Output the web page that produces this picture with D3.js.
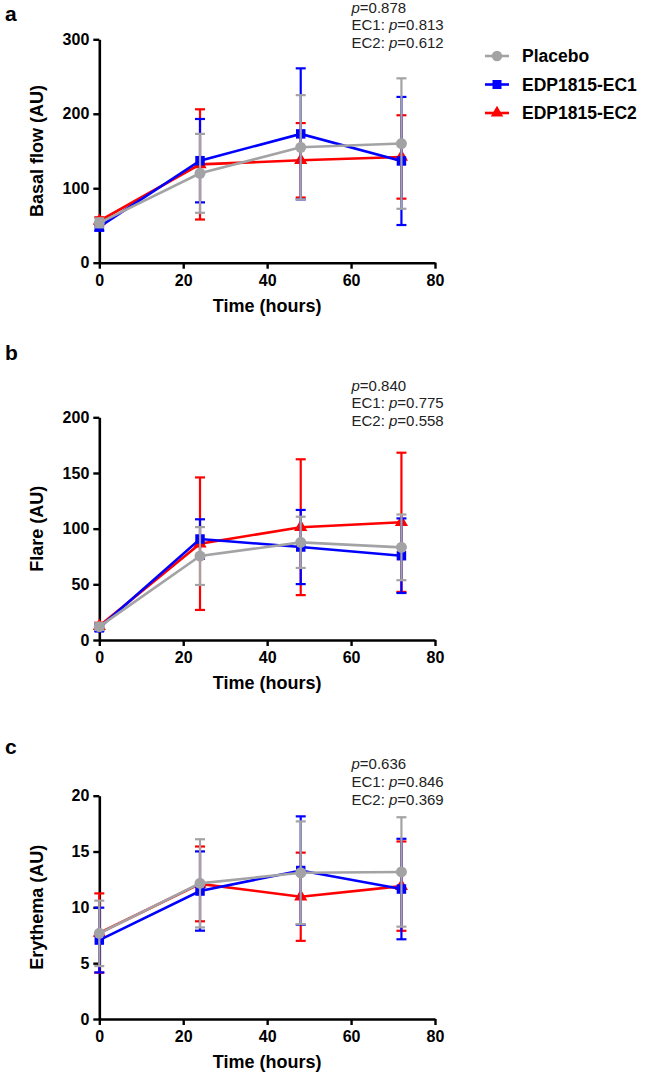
<!DOCTYPE html>
<html>
<head>
<meta charset="utf-8">
<script src="https://cdn.jsdelivr.net/npm/d3@7"></script>
<style>
  body { margin: 0; background: #fff; }
  svg { display: block; font-family: Arial, "Liberation Sans", sans-serif; }
</style>
</head>
<body>
<div id="chart"></div>
<script>
// Data (means and SD)
const times = [0, 24, 48, 72];
const groups = ["Placebo", "EDP1815-EC1", "EDP1815-EC2"];

const basalMeans = [
    [53.5, 120, 155, 160],
    [48, 137, 173, 136.6],
    [56, 132, 137.5, 142]
];
const basalSD = [
    [6, 53, 70, 87.6],
    [5, 56, 88, 86],
    [5, 74, 50, 56]
];

const flareMeans = [
    [12, 75.4, 87.7, 83.2],
    [11, 90.7, 83.5, 75.7],
    [12.5, 86.5, 101.3, 105.7]
];
const flareSD = [
    [3, 26, 23, 29.5],
    [3, 17.7, 33.3, 33.5],
    [3, 59.5, 61, 62.5]
];

const erythemaMeans = [
    [7.67, 12.15, 13.1, 13.17],
    [7.07, 11.46, 13.3, 11.64],
    [7.7, 12.1, 10.95, 11.9]
];
const erythemaSD = [
    [2.93, 3.95, 4.6, 4.9],
    [2.9, 3.55, 4.85, 4.5],
    [3.55, 3.35, 3.95, 4.0]
];

const xTicks = [0, 20, 40, 60, 80];
const basalTicks = [0, 100, 200, 300];
const flareTicks = [0, 50, 100, 150, 200];
const erythemaTicks = [0, 5, 10, 15, 20];

const basalP = ["0.878", "0.813", "0.612"];
const flareP = ["0.840", "0.775", "0.558"];
const erythemaP = ["0.636", "0.846", "0.369"];

// Styling
const colors = ["#a3a3a6", "#0000ff", "#ff0000"];
const symbols = [d3.symbolCircle, d3.symbolSquare, d3.symbolTriangle];
const symbolSizes = [95, 90, 75];

const svg = d3.select("#chart")
    .append("svg")
    .attr("width", 646)
    .attr("height", 1075);

const x = d3.scaleLinear()
    .domain([0, 80])
    .range([99.3, 435]);

function createPanel(cfg) {
    const y = d3.scaleLinear()
        .domain([cfg.ticks[0], cfg.ticks[cfg.ticks.length - 1]])
        .range([cfg.bottom, cfg.top]);

    const g = svg.append("g");

    // panel letter
    svg.append("text")
        .attr("x", 5)
        .attr("y", cfg.letterY)
        .style("font-size", "21px")
        .style("font-weight", "bold")
        .text(cfg.letter);

    // axes
    const xAxis = g.append("g")
        .attr("transform", `translate(0,${cfg.bottom})`)
        .call(d3.axisBottom(x).tickValues(xTicks).tickSize(6).tickSizeOuter(0).tickPadding(6));

    const yAxis = g.append("g")
        .attr("transform", `translate(${x(0)},0)`)
        .call(d3.axisLeft(y).tickValues(cfg.ticks).tickSize(6).tickSizeOuter(0).tickPadding(4));

    [xAxis, yAxis].forEach(a => {
        a.select(".domain").attr("stroke", "#000").attr("stroke-width", 2.6);
        a.selectAll(".tick line").attr("stroke", "#000").attr("stroke-width", 2.4);
        a.selectAll(".tick text")
            .attr("fill", "#000")
            .style("font-size", "16px")
            .style("font-weight", "bold")
            .style("font-family", "Arial, 'Liberation Sans', sans-serif");
    });

    // axis titles
    g.append("text")
        .attr("text-anchor", "middle")
        .attr("x", x(40))
        .attr("y", cfg.bottom + 49)
        .style("font-size", "18px")
        .style("font-weight", "bold")
        .text("Time (hours)");

    g.append("text")
        .attr("text-anchor", "middle")
        .attr("transform", "rotate(-90)")
        .attr("x", -(cfg.top + cfg.bottom) / 2)
        .attr("y", 43)
        .style("font-size", "18px")
        .style("font-weight", "bold")
        .text(cfg.yLabel);

    // p-values
    const labels = ["", "EC1: ", "EC2: "];
    cfg.p.forEach((p, i) => {
        const t = g.append("text")
            .attr("x", 351.5)
            .attr("y", cfg.top - 26.6 + i * 17.7)
            .style("font-size", "15px")
            .attr("fill", "#222");
        t.append("tspan").text(labels[i]);
        t.append("tspan").style("font-style", "italic").text("p");
        t.append("tspan").text("=" + p);
    });

    const line = d3.line()
        .x((d, i) => x(times[i]))
        .y(d => y(d));

    // draw red, blue, then grey on top
    [2, 1, 0].forEach(k => {
        const series = g.append("g");
        const pts = times.map((t, i) => ({ t: t, m: cfg.means[k][i], sd: cfg.sd[k][i] }));

        series.selectAll(".err")
            .data(pts)
            .enter()
            .append("line")
            .attr("x1", d => x(d.t))
            .attr("x2", d => x(d.t))
            .attr("y1", d => y(d.m - d.sd))
            .attr("y2", d => y(d.m + d.sd))
            .attr("stroke", colors[k])
            .attr("stroke-width", 2.2);

        [-1, 1].forEach(s => {
            series.selectAll(".cap" + s)
                .data(pts)
                .enter()
                .append("line")
                .attr("x1", d => x(d.t) - 5)
                .attr("x2", d => x(d.t) + 5)
                .attr("y1", d => y(d.m + s * d.sd))
                .attr("y2", d => y(d.m + s * d.sd))
                .attr("stroke", colors[k])
                .attr("stroke-width", 2.2);
        });

        series.append("path")
            .datum(cfg.means[k])
            .attr("fill", "none")
            .attr("stroke", colors[k])
            .attr("stroke-width", 2.6)
            .attr("d", line);

        series.selectAll(".pt")
            .data(pts)
            .enter()
            .append("path")
            .attr("d", d3.symbol().type(symbols[k]).size(symbolSizes[k]))
            .attr("transform", d => `translate(${x(d.t)},${y(d.m)})`)
            .attr("fill", colors[k]);
    });
}

createPanel({ letter: "a", letterY: 20.5, top: 39.3, bottom: 262.7, ticks: basalTicks,
    means: basalMeans, sd: basalSD, yLabel: "Basal flow (AU)", p: basalP });
createPanel({ letter: "b", letterY: 360, top: 417.3, bottom: 640, ticks: flareTicks,
    means: flareMeans, sd: flareSD, yLabel: "Flare (AU)", p: flareP });
createPanel({ letter: "c", letterY: 754, top: 795.7, bottom: 1019, ticks: erythemaTicks,
    means: erythemaMeans, sd: erythemaSD, yLabel: "Erythema (AU)", p: erythemaP });

// Legend
const legend = svg.append("g")
    .attr("transform", "translate(485,56)");

const legendItems = legend.selectAll(".legend-item")
    .data(groups)
    .enter()
    .append("g")
    .attr("transform", (d, i) => `translate(0,${i * 28.5})`);

legendItems.append("line")
    .attr("x1", 0)
    .attr("x2", 24)
    .attr("stroke", (d, i) => colors[i])
    .attr("stroke-width", 2.6);

legendItems.append("path")
    .attr("d", (d, i) => d3.symbol().type(symbols[i]).size(symbolSizes[i] * 0.9)())
    .attr("transform", "translate(12,0)")
    .attr("fill", (d, i) => colors[i]);

legendItems.append("text")
    .attr("x", 37)
    .attr("dy", "0.35em")
    .style("font-size", "17.5px")
    .style("font-weight", "bold")
    .text(d => d);
</script>
</body>
</html>
